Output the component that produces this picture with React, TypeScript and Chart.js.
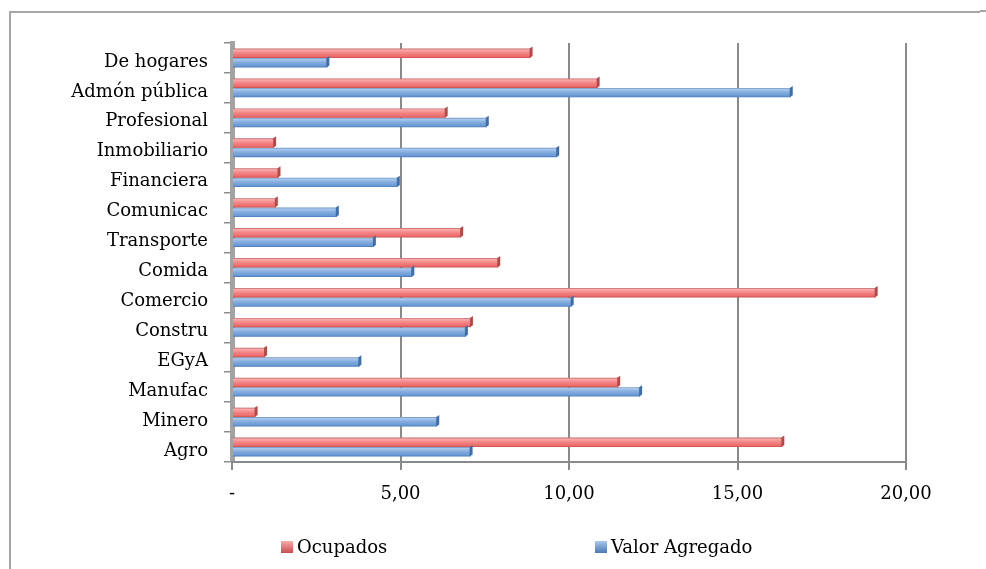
import { useEffect, useRef } from 'react';
import { Chart, registerables } from 'chart.js';

Chart.register(...registerables);

const categories = [
  'De hogares',
  'Admón pública',
  'Profesional',
  'Inmobiliario',
  'Financiera',
  'Comunicac',
  'Transporte',
  'Comida',
  'Comercio',
  'Constru',
  'EGyA',
  'Manufac',
  'Minero',
  'Agro',
];
const ocupados = [8.86, 10.85, 6.34, 1.25, 1.38, 1.3, 6.8, 7.9, 19.1, 7.09, 0.98, 11.46, 0.7, 16.33];
const valorAgregado = [2.83, 16.58, 7.56, 9.65, 4.92, 3.11, 4.21, 5.35, 10.08, 6.94, 3.78, 12.11, 6.09, 7.08];
const seriesNames = ['Ocupados', 'Valor Agregado'];
const xTickValues = [0, 5, 10, 15, 20];
const xTickLabels = ['-', '5,00', '10,00', '15,00', '20,00'];

const CAT_PCT = 0.63;
const FONT = '"DejaVu Serif", serif';

const palettes = [
  { stops: ['#C26262', '#F9ABAB', '#F38888', '#EC6A6A', '#C44E4C'], cap: '#B24A48' },
  { stops: ['#6A90C2', '#ABC8EB', '#86AEDF', '#6898D3', '#4879B8'], cap: '#3F6DA8' },
];

function makeFill(dsIndex: number) {
  return (ctx: any) => {
    const chart = ctx.chart;
    const y = chart.scales?.y;
    const pal = palettes[dsIndex];
    if (!y || typeof ctx.dataIndex !== 'number') return pal.stops[2];
    const catW = (y.bottom - y.top) / categories.length;
    const center = y.getPixelForValue(ctx.dataIndex);
    if (!Number.isFinite(catW) || !Number.isFinite(center) || catW <= 0) return pal.stops[2];
    const bh = (catW * CAT_PCT) / 2;
    const top = center - (catW * CAT_PCT) / 2 + dsIndex * bh;
    const g = chart.ctx.createLinearGradient(0, top, 0, top + bh);
    g.addColorStop(0, pal.stops[0]);
    g.addColorStop(0.15, pal.stops[1]);
    g.addColorStop(0.45, pal.stops[2]);
    g.addColorStop(0.85, pal.stops[3]);
    g.addColorStop(1, pal.stops[4]);
    return g;
  };
}

const framePlugin = {
  id: 'frame',
  beforeDraw(chart: any) {
    const c = chart.ctx;
    c.save();
    c.fillStyle = '#fff';
    c.fillRect(0, 0, chart.width, chart.height);
    c.strokeStyle = '#a6a6a6';
    c.lineWidth = 2;
    c.beginPath();
    c.moveTo(10, chart.height);
    c.lineTo(10, 12);
    c.lineTo(980, 12);
    c.stroke();
    c.beginPath();
    c.moveTo(980, 11);
    c.lineTo(chart.width, 11);
    c.stroke();
    c.restore();
  },
};

const capPlugin = {
  id: 'barCaps',
  afterDatasetsDraw(chart: any) {
    const c = chart.ctx;
    chart.data.datasets.forEach((_: any, di: number) => {
      const meta = chart.getDatasetMeta(di);
      meta.data.forEach((el: any) => {
        const h = el.height;
        if (!Number.isFinite(el.x) || !Number.isFinite(h)) return;
        c.save();
        c.fillStyle = palettes[di].cap;
        c.beginPath();
        c.moveTo(el.x - 1, el.y - h / 2);
        c.lineTo(el.x + 2, el.y - h / 2 - 2);
        c.lineTo(el.x + 2, el.y + h / 2 - 2);
        c.lineTo(el.x - 1, el.y + h / 2);
        c.closePath();
        c.fill();
        c.restore();
      });
    });
  },
};

const legendPlugin = {
  id: 'customLegend',
  afterDraw(chart: any) {
    const c = chart.ctx;
    const items = [
      { box: 281, text: 297 },
      { box: 595, text: 611 },
    ];
    c.save();
    c.font = `18px ${FONT}`;
    c.textBaseline = 'middle';
    c.textAlign = 'left';
    chart.data.datasets.forEach((ds: any, i: number) => {
      const it = items[i];
      const g = c.createLinearGradient(0, 541, 0, 553);
      g.addColorStop(0, palettes[i].stops[1]);
      g.addColorStop(1, palettes[i].stops[4]);
      c.fillStyle = g;
      c.fillRect(it.box, 541, 12, 12);
      c.fillStyle = '#000';
      c.fillText(ds.label, it.text, 548);
    });
    c.restore();
  },
};

export default function App() {
  const ref = useRef<HTMLCanvasElement>(null);
  useEffect(() => {
    if (!ref.current) return;
    Chart.defaults.font.family = FONT;
    const chart = new Chart(ref.current, {
      type: 'bar',
      data: {
        labels: categories,
        datasets: [
          { label: seriesNames[0], data: ocupados, backgroundColor: makeFill(0) as any },
          { label: seriesNames[1], data: valorAgregado, backgroundColor: makeFill(1) as any },
        ],
      },
      options: {
        indexAxis: 'y',
        animation: false,
        responsive: false,
        maintainAspectRatio: false,
        layout: { padding: { left: 10, top: 43, right: 80, bottom: 0 } },
        datasets: { bar: { categoryPercentage: CAT_PCT, barPercentage: 1, borderWidth: 0 } },
        plugins: { legend: { display: false }, tooltip: { enabled: false } },
        scales: {
          y: {
            type: 'category',
            grid: {
              display: true,
              drawOnChartArea: false,
              offset: true,
              tickLength: 8,
              color: '#8c8c8c',
              lineWidth: 1.5,
            },
            border: { display: true, color: '#a3a3a3', width: 5 },
            ticks: { color: '#000', padding: 16, labelOffset: 4, font: { size: 18, family: FONT } },
            afterFit: (s: any) => {
              s.width = 222;
            },
          },
          x: {
            type: 'linear',
            min: 0,
            max: 20,
            ticks: {
              stepSize: 5,
              color: '#000',
              padding: 14,
              maxRotation: 0,
              font: { size: 18, family: FONT },
              callback: (v: any) => {
                const i = xTickValues.indexOf(Number(v));
                return i >= 0 ? xTickLabels[i] : '';
              },
            },
            grid: { color: '#8a8a8a', lineWidth: 2, tickLength: 8 },
            border: { display: true, color: '#8a8a8a', width: 2 },
            afterFit: (s: any) => {
              s.height = 107;
            },
          },
        },
      },
      plugins: [framePlugin, capPlugin, legendPlugin],
    });
    return () => chart.destroy();
  }, []);

  return (
    <div style={{ position: 'fixed', left: 0, top: 0, width: 986, height: 569, overflow: 'hidden', background: '#fff' }}>
      <canvas
        ref={ref}
        width={986}
        height={569}
        style={{ position: 'absolute', left: 0, top: 0, width: 986, height: 569, display: 'block' }}
      />
    </div>
  );
}
